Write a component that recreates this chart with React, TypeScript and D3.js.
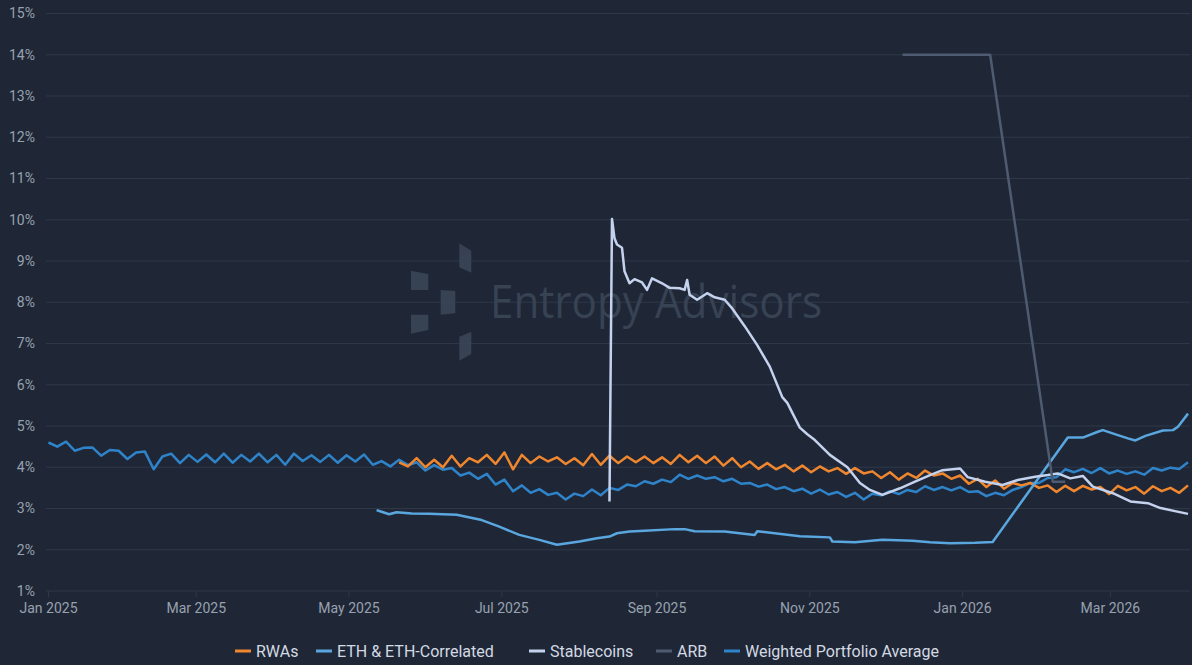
import React from "react";
import * as d3 from "d3";

// Weighted Portfolio Average: every 3.5 days from 2025-01-01
const weightedStart = "2025-01-01";
const weightedValues = [
  4.6, 4.5, 4.62, 4.4, 4.47, 4.48, 4.28, 4.42, 4.4, 4.2, 4.36, 4.38, 3.95, 4.26, 4.33, 4.1,
  4.3, 4.13, 4.31, 4.12, 4.33, 4.11, 4.3, 4.14, 4.33, 4.12, 4.3, 4.06, 4.33, 4.15, 4.29, 4.13,
  4.3, 4.11, 4.29, 4.14, 4.31, 4.06, 4.15, 4.02, 4.18, 4.05, 4.12, 3.92, 4.05, 3.94, 3.98, 3.8,
  3.87, 3.72, 3.84, 3.58, 3.7, 3.42, 3.56, 3.38, 3.47, 3.33, 3.38, 3.22, 3.36, 3.3, 3.46, 3.32,
  3.5, 3.45, 3.58, 3.54, 3.66, 3.6, 3.7, 3.64, 3.82, 3.72, 3.8, 3.72, 3.76, 3.66, 3.72, 3.6,
  3.62, 3.53, 3.58, 3.47, 3.52, 3.42, 3.48, 3.36, 3.46, 3.34, 3.4, 3.28, 3.38, 3.22, 3.36, 3.32,
  3.42, 3.35, 3.45, 3.4, 3.54, 3.45, 3.52, 3.44, 3.52, 3.4, 3.42, 3.3, 3.38, 3.32, 3.45, 3.52,
  3.62, 3.62, 3.74, 3.76, 3.95, 3.88, 3.96, 3.86, 3.98, 3.85, 3.92, 3.84, 3.9, 3.82, 3.98, 3.92,
  3.99, 3.96, 4.12,
];

// RWAs: every 3.5 days from 2025-05-21
const rwaStart = "2025-05-21";
const rwaValues = [
  4.12, 4.02, 4.22, 4.0, 4.18, 4.0, 4.28, 4.02, 4.22, 4.12, 4.3, 4.08, 4.36, 3.95, 4.3, 4.1,
  4.26, 4.14, 4.24, 4.08, 4.22, 4.05, 4.32, 4.06, 4.28, 4.1, 4.26, 4.12, 4.26, 4.1, 4.24, 4.08,
  4.3, 4.12, 4.28, 4.1, 4.26, 4.04, 4.22, 4.0, 4.14, 3.96, 4.1, 3.95, 4.06, 3.9, 4.04, 3.88,
  4.02, 3.9, 3.98, 3.84, 3.98, 3.85, 3.9, 3.74, 3.88, 3.7, 3.85, 3.74, 3.92, 3.8, 3.85, 3.72,
  3.8, 3.6, 3.72, 3.52, 3.68, 3.48, 3.62, 3.56, 3.62, 3.5, 3.56, 3.4, 3.55, 3.42, 3.55, 3.46,
  3.52, 3.35, 3.55, 3.44, 3.52, 3.36, 3.54, 3.42, 3.5, 3.38, 3.56,
];

const ethDates = [
  "2025-05-12", "2025-05-14", "2025-05-17", "2025-05-20", "2025-05-26", "2025-06-02",
  "2025-06-13", "2025-06-23", "2025-06-30", "2025-07-08", "2025-07-16", "2025-07-23",
  "2025-08-01", "2025-08-08", "2025-08-13", "2025-08-16", "2025-08-21", "2025-08-27",
  "2025-09-08", "2025-09-12", "2025-09-16", "2025-09-28", "2025-10-10", "2025-10-11",
  "2025-10-18", "2025-10-28", "2025-11-09", "2025-11-10", "2025-11-19", "2025-11-30",
  "2025-12-12", "2025-12-19", "2025-12-27", "2026-01-06", "2026-01-13", "2026-02-12",
  "2026-02-18", "2026-02-24", "2026-02-26", "2026-03-04", "2026-03-08", "2026-03-11",
  "2026-03-15", "2026-03-22", "2026-03-26", "2026-03-28", "2026-04-01",
];
const ethValues = [
  2.96, 2.92, 2.86, 2.91, 2.88, 2.87,
  2.85, 2.72, 2.56, 2.36, 2.24, 2.12,
  2.2, 2.28, 2.32, 2.4, 2.44, 2.46,
  2.5, 2.5, 2.45, 2.44, 2.36, 2.45,
  2.4, 2.33, 2.3, 2.2, 2.18, 2.24,
  2.22, 2.18, 2.16, 2.17, 2.19, 4.72,
  4.72, 4.86, 4.9, 4.78, 4.7, 4.65,
  4.76, 4.89, 4.9, 4.98, 5.3,
];

const stableDates = [
  "2025-08-13", "2025-08-14", "2025-08-15", "2025-08-16", "2025-08-18", "2025-08-19",
  "2025-08-21", "2025-08-23", "2025-08-26", "2025-08-28", "2025-08-30", "2025-09-03",
  "2025-09-06", "2025-09-10", "2025-09-12", "2025-09-13", "2025-09-14", "2025-09-17",
  "2025-09-21", "2025-09-24", "2025-09-28", "2025-10-01", "2025-10-06", "2025-10-11",
  "2025-10-16", "2025-10-21", "2025-10-23", "2025-10-28", "2025-10-31", "2025-11-03",
  "2025-11-09", "2025-11-16", "2025-11-21", "2025-11-25", "2025-11-30", "2025-12-07",
  "2025-12-13", "2025-12-19", "2025-12-24", "2025-12-31", "2026-01-03", "2026-01-10",
  "2026-01-17", "2026-01-23", "2026-01-30", "2026-02-04", "2026-02-08", "2026-02-13",
  "2026-02-18", "2026-02-22", "2026-03-02", "2026-03-09", "2026-03-16", "2026-03-21",
  "2026-04-01",
];
const stableValues = [
  3.17, 10.02, 9.55, 9.4, 9.32, 8.75,
  8.46, 8.56, 8.48, 8.3, 8.58, 8.46,
  8.35, 8.34, 8.3, 8.54, 8.18, 8.06,
  8.22, 8.12, 8.06, 7.85, 7.42, 6.96,
  6.44, 5.7, 5.56, 4.96, 4.8, 4.66,
  4.3, 4.0, 3.62, 3.45, 3.33, 3.49,
  3.65, 3.81, 3.93, 3.97, 3.76, 3.65,
  3.57, 3.69, 3.77, 3.81, 3.85, 3.73,
  3.79, 3.53, 3.37, 3.17, 3.13, 3.01,
  2.87,
];

const arbDates = ["2025-12-08", "2026-01-12", "2026-02-06", "2026-02-11"];
const arbValues = [14, 14, 3.65, 3.65];

const yTicks = [1, 2, 3, 4, 5, 6, 7, 8, 9, 10, 11, 12, 13, 14, 15];

const seriesNames = ["RWAs", "ETH & ETH-Correlated", "Stablecoins", "ARB", "Weighted Portfolio Average"];
const seriesColors = ["#f0872e", "#5aa7e0", "#c5d2ee", "#4e5b70", "#2f83c9"];

const DAY = 86400000;
const parse = (s: string) => new Date(s + "T00:00:00Z");

type Pt = { date: Date; value: number };

const stepped = (start: string, values: number[]): Pt[] =>
  values.map((v, i) => ({ date: new Date(parse(start).getTime() + i * 3.5 * DAY), value: v }));
const paired = (dates: string[], values: number[]): Pt[] =>
  dates.map((d, i) => ({ date: parse(d), value: values[i] }));

const W = 1192;
const H = 665;
const bg = "#1f2737";
const gridColor = "#2f3849";
const axisText = "#98a1ae";
const font = "Roboto, 'Noto Sans', sans-serif";

export default function App() {
  const x = d3
    .scaleUtc()
    .domain([parse("2025-01-01"), parse("2026-04-01")])
    .range([48.5, 1188]);
  const y = d3.scaleLinear().domain([1, 15]).range([591, 13.5]);

  const line = d3
    .line<Pt>()
    .x((d) => x(d.date))
    .y((d) => y(d.value));

  const data: Pt[][] = [
    stepped(rwaStart, rwaValues),
    paired(ethDates, ethValues),
    paired(stableDates, stableValues),
    paired(arbDates, arbValues),
    stepped(weightedStart, weightedValues),
  ];
  // drawing order: weighted underneath the others
  const drawOrder = [4, 0, 1, 2, 3];

  const xTicks = d3.utcMonth.every(2)!.range(parse("2025-01-01"), parse("2026-04-01"));
  const fmt = d3.utcFormat("%b %Y");

  const legendX = [235, 316, 529, 656, 724];

  // watermark logo blocks
  const logo = [
    [[459.3, 243.3], [471.3, 250.7], [471.3, 272.7], [459.3, 267.3]],
    [[411, 270.7], [428.3, 274], [428.3, 290], [411, 290]],
    [[440.7, 290], [455.3, 291], [455.3, 313.3], [440.7, 314.7]],
    [[411, 314.7], [428.3, 314.7], [428.3, 330], [411, 333.7]],
    [[459.3, 336.7], [471.3, 331.7], [471.3, 354], [459.3, 360.7]],
  ];

  return (
    <div style={{ position: "fixed", left: 0, top: 0, width: W, height: H, background: bg }}>
      <svg width={W} height={H} style={{ display: "block", fontFamily: font }}>
        <rect width={W} height={H} fill={bg} />
        {/* gridlines + y labels */}
        {yTicks.map((t) => (
          <g key={t}>
            <line x1={46} x2={1190} y1={y(t)} y2={y(t)} stroke={gridColor} strokeWidth={1} />
            <text x={35} y={y(t)} dy="0.35em" textAnchor="end" fontSize={14} fill={axisText}>
              {t}%
            </text>
          </g>
        ))}
        {/* watermark */}
        <g fill="#3a4557" opacity={0.9}>
          {logo.map((p, i) => (
            <polygon key={i} points={p.map((q) => q.join(",")).join(" ")} />
          ))}
          <text x={490} y={318} fontSize={45} textLength={332} lengthAdjust="spacingAndGlyphs" fontFamily="'Open Sans', sans-serif">
            Entropy Advisors
          </text>
        </g>
        {/* x axis ticks */}
        {xTicks.map((t) => (
          <g key={t.getTime()}>
            <line x1={x(t)} x2={x(t)} y1={591} y2={597} stroke={gridColor} strokeWidth={1} />
            <text x={x(t)} y={613} textAnchor="middle" fontSize={14} fill={axisText}>
              {fmt(t)}
            </text>
          </g>
        ))}
        {/* series */}
        {drawOrder.map((i) => (
          <path
            key={i}
            d={line(data[i]) ?? ""}
            fill="none"
            stroke={seriesColors[i]}
            strokeWidth={2.5}
            strokeLinejoin="round"
          />
        ))}
        {/* legend */}
        {seriesNames.map((name, i) => (
          <g key={name}>
            <line x1={legendX[i]} x2={legendX[i] + 16} y1={651} y2={651} stroke={seriesColors[i]} strokeWidth={3} />
            <text x={legendX[i] + 21} y={656.5} fontSize={16} fill="#d3d9e2">
              {name}
            </text>
          </g>
        ))}
      </svg>
    </div>
  );
}
